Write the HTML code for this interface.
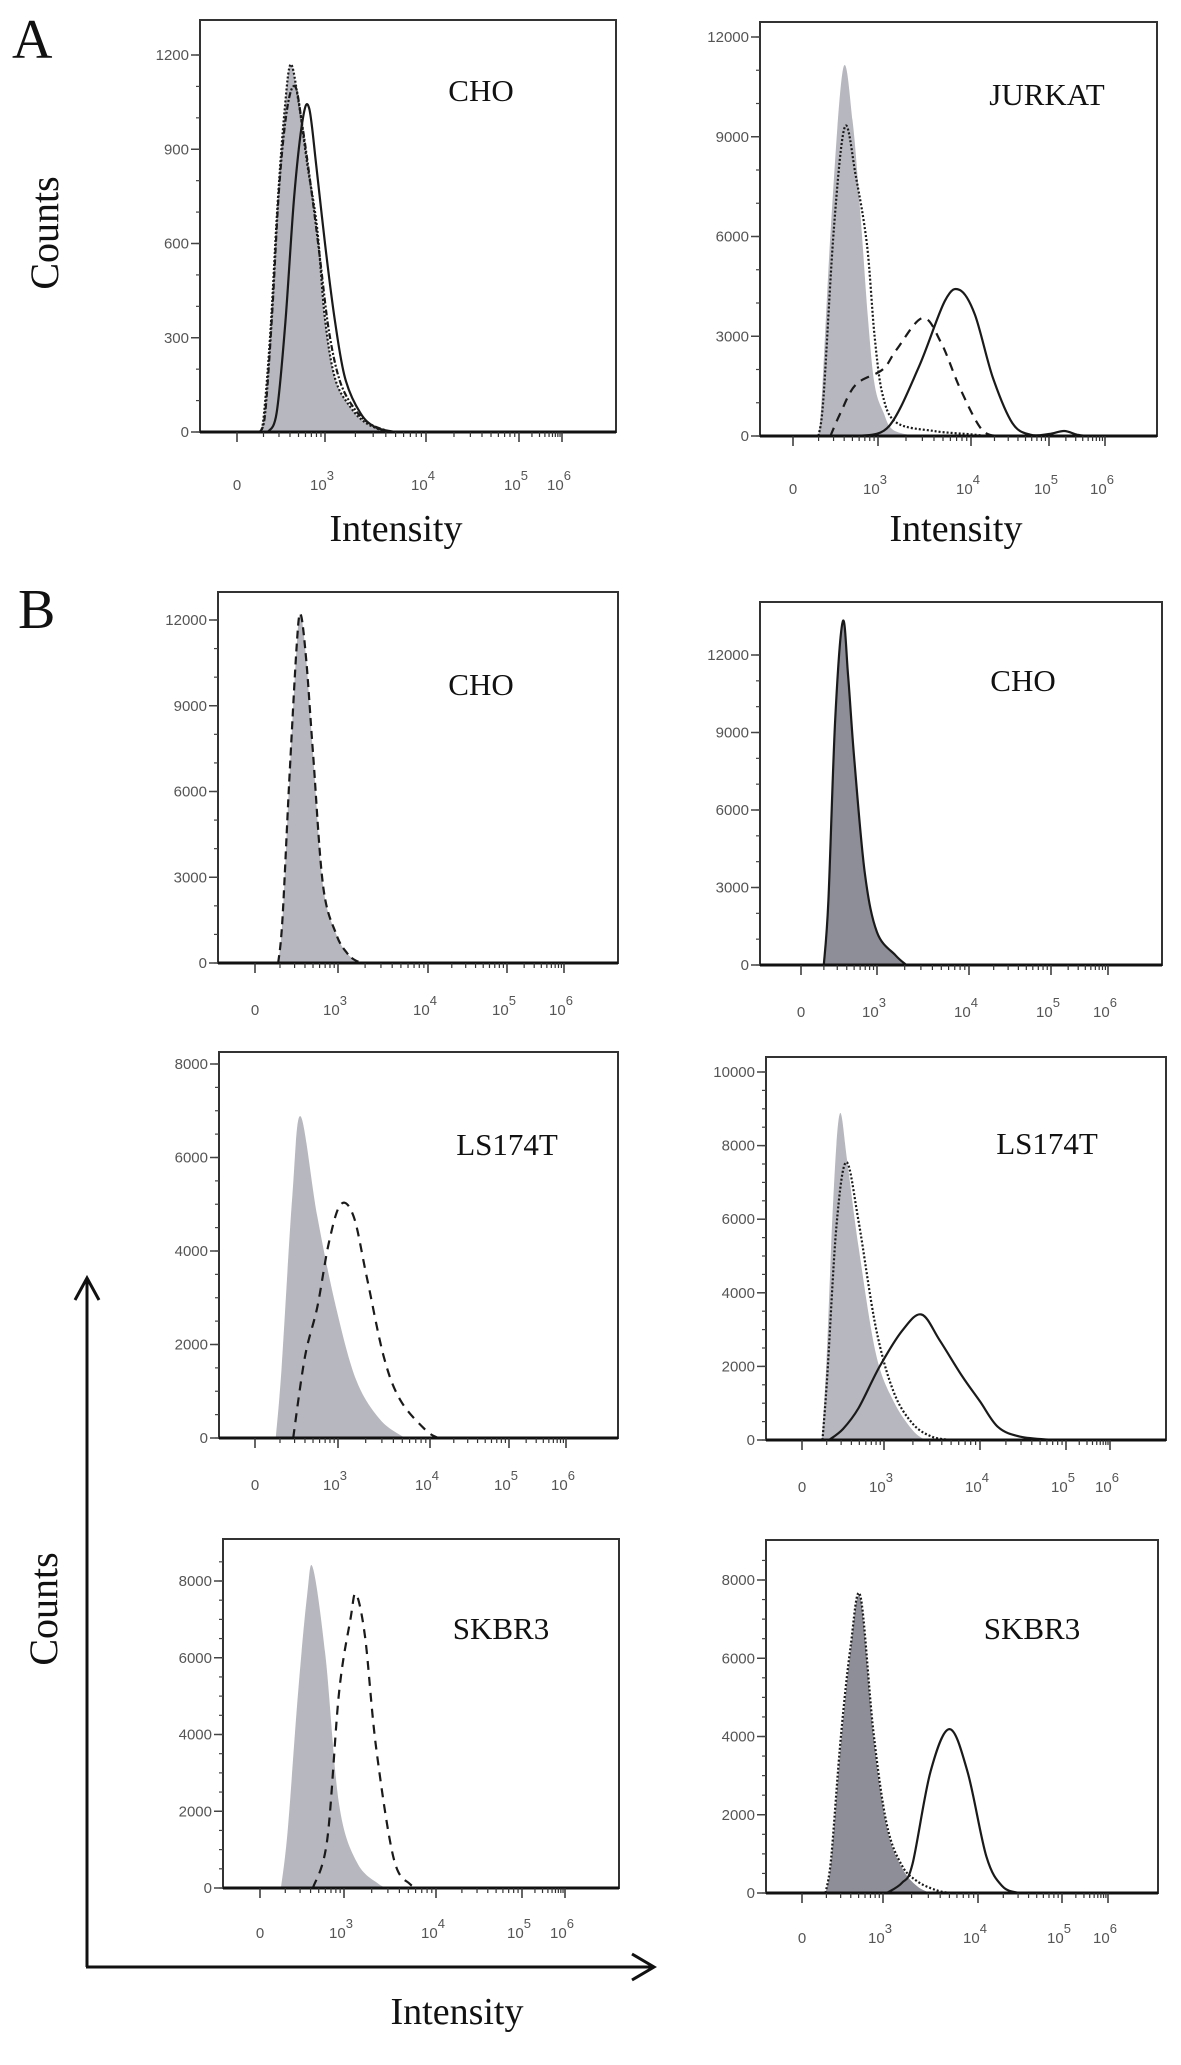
<!DOCTYPE html>
<html><head><meta charset="utf-8"><title>Flow cytometry histograms</title>
<style>
html,body{margin:0;padding:0;background:#fff;}
svg{display:block;}
.tick{font-family:"Liberation Sans",sans-serif;font-size:15px;fill:#555;}
.serif{font-family:"Liberation Serif",serif;fill:#111;}
</style></head>
<body>
<svg id="fig" width="1181" height="2065" viewBox="0 0 1181 2065" xmlns="http://www.w3.org/2000/svg">
  <text class="serif" x="12" y="58" font-size="56">A</text>
  <text class="serif" x="18" y="628" font-size="56">B</text>
  <text class="serif" font-size="40" text-anchor="middle" transform="translate(58,233) rotate(-90)">Counts</text>
  <text class="serif" font-size="40" text-anchor="middle" transform="translate(57,1609) rotate(-90)">Counts</text>
  <text class="serif" font-size="38" x="396" y="541" text-anchor="middle">Intensity</text>
  <text class="serif" font-size="38" x="956" y="541" text-anchor="middle">Intensity</text>
  <text class="serif" font-size="38" x="457" y="2024" text-anchor="middle">Intensity</text>
  <g stroke="#111" stroke-width="3" fill="none">
    <line x1="87" y1="1967" x2="87" y2="1279"/>
    <polyline points="75,1300 87,1278 99,1300"/>
  </g>
  <g stroke="#111" stroke-width="3" fill="none">
    <line x1="86" y1="1967" x2="654" y2="1967"/>
    <polyline points="632,1954 654,1967 632,1980"/>
  </g>
</svg>
<script>
// ---- data (x in axis-decade index units: 0="0",1=10^3,2=10^4,3=10^5,4=10^6) ----
const xTickLabels = ["0","3","4","5","6"];
const panelLabels = ["CHO","JURKAT","CHO","CHO","LS174T","LS174T","SKBR3","SKBR3"];
const yTicks1 = [0,300,600,900,1200];
const yTicks2 = [0,3000,6000,9000,12000];
const yTicks3 = [0,2000,4000,6000,8000];
const yTicks4 = [0,2000,4000,6000,8000,10000];

const choA_gray = [[0.25,0],[0.3,40],[0.38,320],[0.46,720],[0.54,1020],[0.61,1170],[0.7,1050],[0.8,850],[0.91,650],[1.0,360],[1.1,170],[1.25,80],[1.4,30],[1.6,0]];
const choA_dash = [[0.26,0],[0.32,60],[0.4,380],[0.48,780],[0.57,1030],[0.66,1100],[0.74,980],[0.84,780],[0.94,560],[1.04,320],[1.15,160],[1.3,70],[1.45,25],[1.65,0]];
const choA_solid = [[0.35,0],[0.45,60],[0.55,350],[0.65,750],[0.75,1000],[0.82,1030],[0.9,850],[1.0,600],[1.1,350],[1.2,170],[1.35,60],[1.5,15],[1.7,0]];

const jur_gray = [[0.28,0],[0.33,800],[0.45,6500],[0.59,11050],[0.7,9500],[0.79,6800],[0.88,3600],[0.96,1550],[1.06,700],[1.16,190],[1.4,0]];
const jur_dot = [[0.3,0],[0.36,1200],[0.48,6200],[0.61,9300],[0.74,7800],[0.87,5750],[0.96,3000],[1.05,1240],[1.2,400],[1.6,150],[2.0,50],[2.2,0]];
const jur_dash = [[0.44,0],[0.56,700],[0.74,1550],[1.05,2000],[1.2,2600],[1.48,3550],[1.68,2800],[1.88,1450],[2.14,190],[2.38,0]];
const jur_solid = [[0.79,0],[1.12,300],[1.44,2080],[1.72,4070],[1.88,4390],[2.05,3650],[2.28,1760],[2.53,390],[2.76,40],[3.0,60],[3.27,150],[3.5,40],[3.7,0]];

const choB1_gray = [[0.28,0],[0.33,1500],[0.41,6200],[0.5,11000],[0.55,12200],[0.62,10500],[0.7,7300],[0.82,2700],[0.98,1000],[1.1,350],[1.2,80],[1.3,0]];
const choB2_gray = [[0.3,0],[0.36,2500],[0.45,9500],[0.55,13300],[0.62,11200],[0.7,8000],[0.84,3560],[1.0,1270],[1.2,380],[1.32,0]];

const lsL_gray = [[0.25,0],[0.32,1500],[0.45,5200],[0.55,6880],[0.75,4740],[0.98,2770],[1.2,1230],[1.46,390],[1.73,0]];
const lsL_dash = [[0.46,0],[0.6,1720],[0.75,2800],[0.89,4180],[1.03,5000],[1.17,4740],[1.31,3470],[1.5,1720],[1.68,800],[1.95,175],[2.1,0]];
const lsR_gray = [[0.24,0],[0.3,2200],[0.38,6500],[0.46,8860],[0.55,7600],[0.69,5240],[0.9,2360],[1.1,1050],[1.3,260],[1.43,0]];
const lsR_dot = [[0.25,0],[0.31,1800],[0.42,5800],[0.54,7550],[0.69,5940],[0.9,3060],[1.1,1310],[1.3,440],[1.5,90],[1.7,0]];
const lsR_solid = [[0.33,0],[0.5,300],[0.69,870],[0.95,2010],[1.19,2970],[1.39,3410],[1.58,2710],[1.81,1750],[2.0,1050],[2.21,350],[2.47,90],[2.85,0]];

const skL_gray = [[0.25,0],[0.33,1500],[0.45,5000],[0.56,7600],[0.63,8340],[0.78,6040],[0.94,2200],[1.14,670],[1.38,100],[1.5,0]];
const skL_dash = [[0.63,0],[0.8,1250],[0.94,5080],[1.07,7000],[1.13,7660],[1.23,6520],[1.35,3640],[1.54,770],[1.72,100],[1.85,0]];
const skR_gray = [[0.29,0],[0.36,800],[0.48,3800],[0.6,6200],[0.72,7550],[0.88,4050],[1.04,1680],[1.2,640],[1.36,170],[1.5,0]];
const skR_dot = [[0.29,0],[0.36,900],[0.48,4000],[0.6,6300],[0.72,7600],[0.88,4150],[1.04,1750],[1.2,700],[1.36,300],[1.55,80],[1.7,0]];
const skR_solid = [[1.04,0],[1.2,260],[1.31,740],[1.5,3100],[1.7,4190],[1.89,3100],[2.1,930],[2.29,170],[2.49,0]];

// ---- layout (pixels) ----
const panels = [
 {id:"a-cho",    l:200,t:20,  r:616, b:432, yv:1200, yp:55,   yt:yTicks1, minor:100,  xt:[237,325,426,519,562], lab:[481,90],  lb:58},
 {id:"a-jurkat", l:760,t:22,  r:1157,b:436, yv:12000,yp:37,   yt:yTicks2, minor:1000, xt:[793,878,971,1049,1105], lab:[1047,94], lb:58},
 {id:"b-cho-l",  l:218,t:592, r:618, b:963, yv:12000,yp:620,  yt:yTicks2, minor:1000, xt:[255,338,428,507,564], lab:[481,684], lb:52},
 {id:"b-cho-r",  l:760,t:602, r:1162,b:965, yv:12000,yp:655,  yt:yTicks2, minor:1000, xt:[801,877,969,1051,1108], lab:[1023,680], lb:52},
 {id:"b-ls-l",   l:219,t:1052,r:618, b:1438,yv:8000, yp:1064, yt:yTicks3, minor:500,  xt:[255,338,430,509,566], lab:[507,1144], lb:52},
 {id:"b-ls-r",   l:766,t:1057,r:1166,b:1440,yv:10000,yp:1072, yt:yTicks4, minor:500,  xt:[802,884,980,1066,1110], lab:[1047,1143], lb:52},
 {id:"b-sk-l",   l:223,t:1539,r:619, b:1888,yv:8000, yp:1581, yt:yTicks3, minor:500,  xt:[260,344,436,522,565], lab:[501,1628], lb:50},
 {id:"b-sk-r",   l:766,t:1540,r:1158,b:1893,yv:8000, yp:1580, yt:yTicks3, minor:500,  xt:[802,883,978,1062,1108], lab:[1032,1628], lb:50}
];
const LIGHT="#b7b7bf", DARK="#8e8e98";
const series = [
 [{d:choA_gray,fill:LIGHT,dash:"2 2",n:"control-filled"},{d:choA_dash,dash:"6 2 2 2",n:"isotype-dashdot"},{d:choA_solid,n:"antibody-solid"}],
 [{d:jur_gray,fill:LIGHT,stroke:"none",n:"control-filled"},{d:jur_dot,dash:"2 2",n:"isotype-dotted"},{d:jur_dash,dash:"9 7",n:"antibody-dashed"},{d:jur_solid,n:"antibody-solid"}],
 [{d:choB1_gray,fill:LIGHT,dash:"8 5",n:"control-filled-dashed"}],
 [{d:choB2_gray,fill:DARK,n:"control-filled"}],
 [{d:lsL_gray,fill:LIGHT,stroke:"none",n:"control-filled"},{d:lsL_dash,dash:"9 7",n:"antibody-dashed"}],
 [{d:lsR_gray,fill:LIGHT,stroke:"none",n:"control-filled"},{d:lsR_dot,dash:"2 2",n:"isotype-dotted"},{d:lsR_solid,n:"antibody-solid"}],
 [{d:skL_gray,fill:LIGHT,stroke:"none",n:"control-filled"},{d:skL_dash,dash:"9 7",n:"antibody-dashed"}],
 [{d:skR_gray,fill:DARK,stroke:"none",n:"control-filled"},{d:skR_dot,dash:"2 2",n:"isotype-dotted"},{d:skR_solid,n:"antibody-solid"}]
];

const NS="http://www.w3.org/2000/svg";
const svg=document.getElementById("fig");
function mk(tag,attrs,parent){const e=document.createElementNS(NS,tag);for(const k in attrs)e.setAttribute(k,attrs[k]);(parent||svg).appendChild(e);return e;}

function xScale(p,v){
  const i=Math.max(0,Math.min(3,Math.floor(v)));
  return p.xt[i]+(v-i)*(p.xt[i+1]-p.xt[i]);
}
function yScale(p,v){return p.b-v*(p.b-p.yp)/p.yv;}

function smoothPath(pts){
  let d="M"+pts[0][0].toFixed(1)+","+pts[0][1].toFixed(1);
  for(let i=0;i<pts.length-1;i++){
    const p0=pts[Math.max(0,i-1)],p1=pts[i],p2=pts[i+1],p3=pts[Math.min(pts.length-1,i+2)];
    const c1x=p1[0]+(p2[0]-p0[0])/6,c1y=p1[1]+(p2[1]-p0[1])/6;
    const c2x=p2[0]-(p3[0]-p1[0])/6,c2y=p2[1]-(p3[1]-p1[1])/6;
    d+=" C"+c1x.toFixed(1)+","+c1y.toFixed(1)+" "+c2x.toFixed(1)+","+c2y.toFixed(1)+" "+p2[0].toFixed(1)+","+p2[1].toFixed(1);
  }
  return d;
}

panels.forEach((p,pi)=>{
  const g=mk("g",{});
  
  
  series[pi].forEach(s=>{
    const pts=s.d.map(q=>[xScale(p,q[0]),Math.min(p.b,yScale(p,q[1]))]);
    const path=smoothPath(pts);
    if(s.fill){
      const f=mk("path",{d:path+" L"+pts[pts.length-1][0]+","+p.b+" L"+pts[0][0]+","+p.b+" Z",fill:s.fill,stroke:"none"},g);
      
      
      if(s.stroke==="none")return;
    }
    const ln=mk("path",{d:path,fill:"none",stroke:"#1a1a1a","stroke-width":2.2,"stroke-dasharray":s.dash||"none"},g);
    
    
  });
  const fr=mk("rect",{x:p.l,y:p.t,width:p.r-p.l,height:p.b-p.t,fill:"none",stroke:"#333","stroke-width":2},g);
  
  
  const base=mk("line",{x1:p.l,y1:p.b,x2:p.r,y2:p.b,stroke:"#111","stroke-width":3},g);
  
  
  for(let v=0;v<=p.yv*1.08;v+=p.minor){
    const y=yScale(p,v); if(y<p.t)break;
    mk("line",{x1:p.l-4,y1:y,x2:p.l,y2:y,stroke:"#444","stroke-width":1.2},g);
  }
  p.yt.forEach(v=>{
    const y=yScale(p,v);
    mk("line",{x1:p.l-9,y1:y,x2:p.l,y2:y,stroke:"#444","stroke-width":1.5},g);
    const t=mk("text",{x:p.l-11,y:y+5,"text-anchor":"end",class:"tick"},g);
    t.textContent=String(v);
    
    
  });
  for(let i=0;i<4;i++){
    for(let k=1;k<9;k++){
      const x=xScale(p,i+Math.log10(k+1));
      mk("line",{x1:x,y1:p.b,x2:x,y2:p.b+5,stroke:"#333","stroke-width":1.2},g);
    }
  }
  xTickLabels.forEach((lab,i)=>{
    const x=p.xt[i];
    mk("line",{x1:x,y1:p.b,x2:x,y2:p.b+10,stroke:"#333","stroke-width":1.5},g);
    const t=mk("text",{x:x-(i?3:0),y:p.b+p.lb,"text-anchor":"middle",class:"tick"},g);
    
    
    if(i===0){t.textContent="0";}
    else{
      t.textContent="10";
      const sup=mk("tspan",{dy:-10,"font-size":13},t);
      sup.textContent=lab;
    }
  });
  const nl=mk("text",{x:p.lab[0],y:p.lab[1]+11,"text-anchor":"middle",class:"serif","font-size":31},g);
  nl.textContent=panelLabels[pi];
  
  
});
</script>
</body></html>
